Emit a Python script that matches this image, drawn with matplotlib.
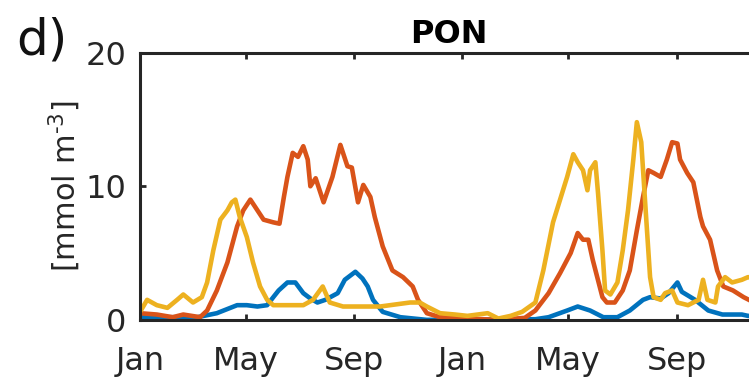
import numpy as np
import matplotlib.pyplot as plt

plt.rcParams['font.family'] = ['DejaVu Sans']

# day of the two-year record and PON concentration [mmol m-3]
orange_day = [0, 19, 37, 49, 68, 76, 87, 99, 110, 117, 125, 133, 140, 151, 158, 163, 167, 173, 179, 185,
              190, 193, 199, 208, 218, 227, 235, 240, 247, 253, 261, 266, 275, 286, 298, 309, 315, 325, 340, 371,
              406, 436, 448, 463, 476, 488, 496, 502, 508, 513, 524, 529, 538, 547, 555, 563, 570, 576, 582, 590,
              597, 603, 609, 612, 620, 627, 635, 638, 646, 654, 661, 672, 684, 690, 710, 730]
orange_pon = [0.5, 0.4, 0.2, 0.4, 0.2, 0.7, 2.2, 4.3, 7.0, 8.2, 9.0, 8.2, 7.5, 7.3, 7.2, 9.2, 10.7, 12.5, 12.2, 13.0,
              12.0, 10.0, 10.6, 8.8, 10.7, 13.1, 11.5, 11.4, 8.8, 10.1, 9.2, 7.7, 5.5, 3.7, 3.2, 2.5, 1.5, 0.5, 0.2, 0.1,
              0.0, 0.15, 0.7, 2.0, 3.5, 5.0, 6.5, 6.0, 6.0, 4.5, 1.7, 1.3, 1.3, 2.2, 3.7, 6.7, 9.2, 11.2, 11.0, 10.7,
              12.0, 13.3, 13.2, 12.0, 11.0, 10.3, 7.7, 7.0, 6.0, 3.7, 2.5, 2.2, 1.7, 1.5, 0.8, 0.5]

yellow_day = [0, 8, 19, 31, 42, 49, 60, 70, 76, 83, 91, 99, 104, 108, 113, 121, 128, 136, 144, 151,
              162, 185, 196, 207, 215, 230, 272, 306, 317, 325, 340, 357, 371, 394, 406, 420, 433, 448, 457, 468,
              476, 484, 491, 496, 502, 507, 510, 516, 519, 524, 527, 533, 541, 547, 553, 559, 563, 568, 573, 578,
              582, 590, 595, 603, 609, 621, 633, 638, 643, 652, 655, 663, 671, 682, 689, 710, 730]
yellow_pon = [0.6, 1.5, 1.1, 0.9, 1.5, 1.9, 1.3, 1.7, 2.8, 5.2, 7.5, 8.2, 8.8, 9.0, 7.7, 6.2, 4.3, 2.5, 1.5, 1.1,
              1.1, 1.1, 1.5, 2.5, 1.3, 1.0, 1.0, 1.3, 1.3, 1.0, 0.5, 0.4, 0.3, 0.5, 0.1, 0.3, 0.6, 1.3, 3.7, 7.3,
              9.0, 10.7, 12.4, 11.8, 11.2, 9.7, 11.2, 11.8, 9.5, 5.2, 2.2, 1.9, 2.8, 5.2, 8.2, 12.0, 14.8, 13.3, 8.2, 3.2,
              1.7, 1.5, 2.0, 2.2, 1.3, 1.1, 1.5, 3.0, 1.5, 1.3, 2.5, 3.2, 2.8, 3.0, 3.2, 3.0, 3.0]

blue_day = [0, 65, 87, 110, 121, 133, 144, 151, 157, 167, 176, 185, 193, 201, 210, 224, 232, 244, 252, 258,
            264, 275, 295, 325, 448, 463, 484, 496, 510, 525, 541, 555, 570, 578, 590, 599, 609, 614, 629, 644,
            660, 682, 689, 730]
blue_pon = [0.2, 0.2, 0.5, 1.1, 1.1, 1.0, 1.1, 1.7, 2.2, 2.8, 2.8, 2.0, 1.6, 1.3, 1.5, 2.0, 3.0, 3.6, 3.1, 2.5,
            1.5, 0.6, 0.2, 0.0, 0.05, 0.2, 0.7, 1.0, 0.7, 0.2, 0.2, 0.7, 1.5, 1.7, 1.6, 2.0, 2.8, 2.1, 1.5, 0.7,
            0.4, 0.4, 0.3, 0.2]

tick_days = [0, 120, 243, 365, 485, 608, 730]
tick_labels = ['Jan', 'May', 'Sep', 'Jan', 'May', 'Sep', '']

fig = plt.figure(figsize=(7.49, 3.79), dpi=100)
# axes runs past the right edge of the figure
ax = fig.add_axes([0.187, 0.156, 0.86, 0.705])

ax.plot(blue_day, blue_pon, color='#0072BD', lw=3.3, solid_joinstyle='round')
ax.plot(orange_day, orange_pon, color='#D95319', lw=3.3, solid_joinstyle='round')
ax.plot(yellow_day, yellow_pon, color='#EDB120', lw=3.3, solid_joinstyle='round')

ax.set_xlim(0, 730)
ax.set_ylim(0, 20)
ax.set_xticks(tick_days)
ax.set_xticklabels(tick_labels)
ax.set_yticks([0, 10, 20])

for s in ax.spines.values():
    s.set_linewidth(2.2)
    s.set_color('#262626')
ax.tick_params(direction='in', length=4, width=2, colors='#262626', labelsize=23,
               top=True, right=True)
ax.tick_params(axis='x', pad=19)
ax.tick_params(axis='y', pad=10)

ax.set_ylabel('[mmol m$^{\\text{-3}}$]', fontsize=22, color='#262626', labelpad=2)
ax.text(350, 20.75, 'PON', fontsize=23, fontweight='bold', ha='center', va='baseline')
fig.text(0.022, 0.855, 'd)', fontsize=36, color='#111111')

fig.savefig('out.png', dpi=100)
